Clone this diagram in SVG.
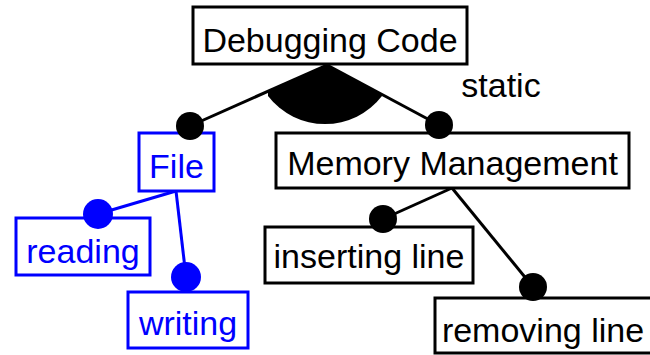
<svg xmlns="http://www.w3.org/2000/svg" width="650" height="355" viewBox="0 0 650 355">
  <style>
    .box { fill: #ffffff; stroke: #000000; stroke-width: 3; }
    .box.blue { stroke: #0000ff; }
    .lbl { font-family: "Liberation Sans", Arial, sans-serif; font-size: 34px; fill: #000000; text-anchor: middle; }
    .lbl.blue { fill: #0000ff; }
    .edge { stroke: #000000; stroke-width: 3; fill: none; }
    .edge.blue { stroke: #0000ff; }
    .dot { fill: #000000; }
    .dot.blue { fill: #0000ff; }
  </style>
  <rect width="650" height="355" fill="#ffffff"/>

  <g id="connectors">
    <!-- alternative (xor) group under the root -->
    <line class="edge" x1="327" y1="65" x2="190" y2="126"/>
    <line class="edge" x1="327" y1="65" x2="439" y2="125"/>
    <path d="M327,65 L268,91.5 L268,96 A72,72 0 0 0 382,96 L382,94.5 Z" fill="#000000"/>
    <!-- File children -->
    <line class="edge blue" x1="176" y1="191" x2="98" y2="214"/>
    <line class="edge blue" x1="176" y1="191" x2="186" y2="277"/>
    <!-- Memory Management children -->
    <line class="edge" x1="452" y1="188" x2="383" y2="219"/>
    <line class="edge" x1="452" y1="188" x2="533" y2="287"/>
  </g>

  <g id="debugging-code">
    <rect class="box" x="193" y="7" width="274" height="57"/>
    <text class="lbl" x="330" y="52">Debugging Code</text>
  </g>

  <g id="static-label">
    <text class="lbl" x="501" y="97">static</text>
  </g>

  <g id="file">
    <rect class="box blue" x="139" y="133" width="75" height="58"/>
    <text class="lbl blue" x="176.5" y="178">File</text>
    <circle class="dot" cx="190" cy="126" r="14"/>
  </g>

  <g id="memory-management">
    <rect class="box" x="276" y="133" width="353" height="55"/>
    <text class="lbl" x="452.5" y="175">Memory Management</text>
    <circle class="dot" cx="439" cy="125" r="14"/>
  </g>

  <g id="reading">
    <rect class="box blue" x="16" y="218" width="134" height="57"/>
    <text class="lbl blue" x="83" y="263">reading</text>
    <circle class="dot blue" cx="98" cy="214" r="15"/>
  </g>

  <g id="writing">
    <rect class="box blue" x="128" y="292" width="120" height="56"/>
    <text class="lbl blue" x="188" y="335">writing</text>
    <circle class="dot blue" cx="186" cy="277" r="15"/>
  </g>

  <g id="inserting-line">
    <rect class="box" x="265" y="227" width="208" height="56"/>
    <text class="lbl" x="369" y="268">inserting line</text>
    <circle class="dot" cx="383" cy="219" r="14"/>
  </g>

  <g id="removing-line">
    <rect class="box" x="435" y="298" width="220" height="55"/>
    <text class="lbl" x="543" y="342">removing line</text>
    <circle class="dot" cx="533" cy="287" r="14"/>
  </g>
</svg>
